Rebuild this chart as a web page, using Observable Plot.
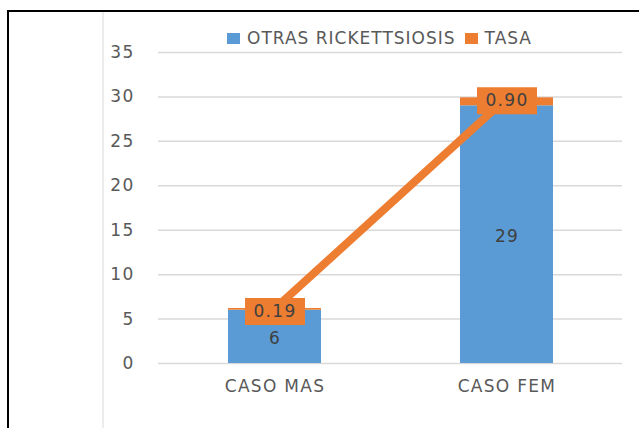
<!DOCTYPE html>
<html>
<head>
<meta charset="utf-8">
<script src="https://cdn.jsdelivr.net/npm/d3@7"></script>
<script src="https://cdn.jsdelivr.net/npm/@observablehq/plot@0.6"></script>
<style>
  html, body { margin: 0; padding: 0; background: #fff; }
  #wrap { position: relative; width: 639px; height: 428px; overflow: hidden; font-family: "DejaVu Sans", sans-serif; }
  #wrap svg { position: absolute; left: 0; top: 0; }
  .border-top { position: absolute; left: 7px; top: 10px; width: 632px; height: 2px; background: #000; }
  .border-left { position: absolute; left: 7px; top: 10px; width: 2px; height: 418px; background: #000; }
  .vline { position: absolute; left: 102px; top: 12px; width: 2px; height: 416px; background: #ececec; }
  #legend { position: absolute; left: 227px; top: 28px; display: flex; align-items: center; font-size: 17px; letter-spacing: 1px; color: #595959; white-space: nowrap; }
  #legend .sw { display: inline-block; width: 13px; height: 11px; margin-right: 7px; }
  #legend .item { display: flex; align-items: center; margin-right: 9px; }
</style>
</head>
<body>
<div id="wrap">
  <div class="border-top"></div>
  <div class="border-left"></div>
  <div class="vline"></div>
  <div id="legend"></div>
</div>
<script>
const categories = ["CASO MAS", "CASO FEM"];
const series = ["OTRAS RICKETTSIOSIS", "TASA"];
const casos = [6, 29];
const tasa = [0.19, 0.90];
const tasaLabels = ["0.19", "0.90"];
const yTicks = [0, 5, 10, 15, 20, 25, 30, 35];
const colors = ["#5B9BD5", "#ED7D31"];

const rows = [];
categories.forEach((c, i) => {
  rows.push({cat: c, serie: series[0], value: casos[i]});
  rows.push({cat: c, serie: series[1], value: tasa[i]});
});
const totals = categories.map((c, i) => ({cat: c, total: casos[i] + tasa[i], tasa: tasa[i], label: tasaLabels[i]}));
const mids = categories.map((c, i) => ({cat: c, mid: casos[i] / 2, label: String(casos[i])}));

const boxSymbol = { draw(ctx) { ctx.rect(-30, -13.5, 60, 27); } };

const chart = Plot.plot({
  width: 639,
  height: 428,
  marginLeft: 158,
  marginRight: 17,
  marginTop: 52,
  marginBottom: 65,
  style: { fontFamily: "DejaVu Sans, sans-serif", fontSize: "17px", color: "#595959", background: "transparent", letterSpacing: "1.3px" },
  x: { domain: categories, paddingInner: 0.6, paddingOuter: 0.3, label: null },
  y: { domain: [0, 35], label: null },
  color: { domain: series, range: colors },
  marks: [
    Plot.ruleY(yTicks, { stroke: "#d9d9d9", strokeWidth: 1.5 }),
    Plot.barY(rows, { x: "cat", y: "value", fill: "serie" }),
    Plot.line(totals, { x: "cat", y: "total", stroke: colors[1], strokeWidth: 8 }),
    Plot.dot(totals, { x: "cat", y: "total", symbol: boxSymbol, fill: colors[1], stroke: null, dy: 3 }),
    Plot.text(totals, { x: "cat", y: "total", text: "label", fill: "#404040", fontSize: 17, dy: 3 }),
    Plot.text(mids, { x: "cat", y: "mid", text: "label", fill: "#404040", fontSize: 17, dy: 2 }),
    Plot.axisY({ ticks: yTicks, tickSize: 0, tickPadding: 24, fontSize: 17, fill: "#595959" }),
    Plot.axisX({ tickSize: 0, tickPadding: 16, fontSize: 17, fill: "#595959" })
  ]
});
document.getElementById("wrap").appendChild(chart);

const legend = document.getElementById("legend");
series.forEach((s, i) => {
  const it = document.createElement("span");
  it.className = "item";
  const sw = document.createElement("span");
  sw.className = "sw";
  sw.style.background = colors[i];
  it.appendChild(sw);
  it.appendChild(document.createTextNode(s));
  legend.appendChild(it);
});
</script>
</body>
</html>
